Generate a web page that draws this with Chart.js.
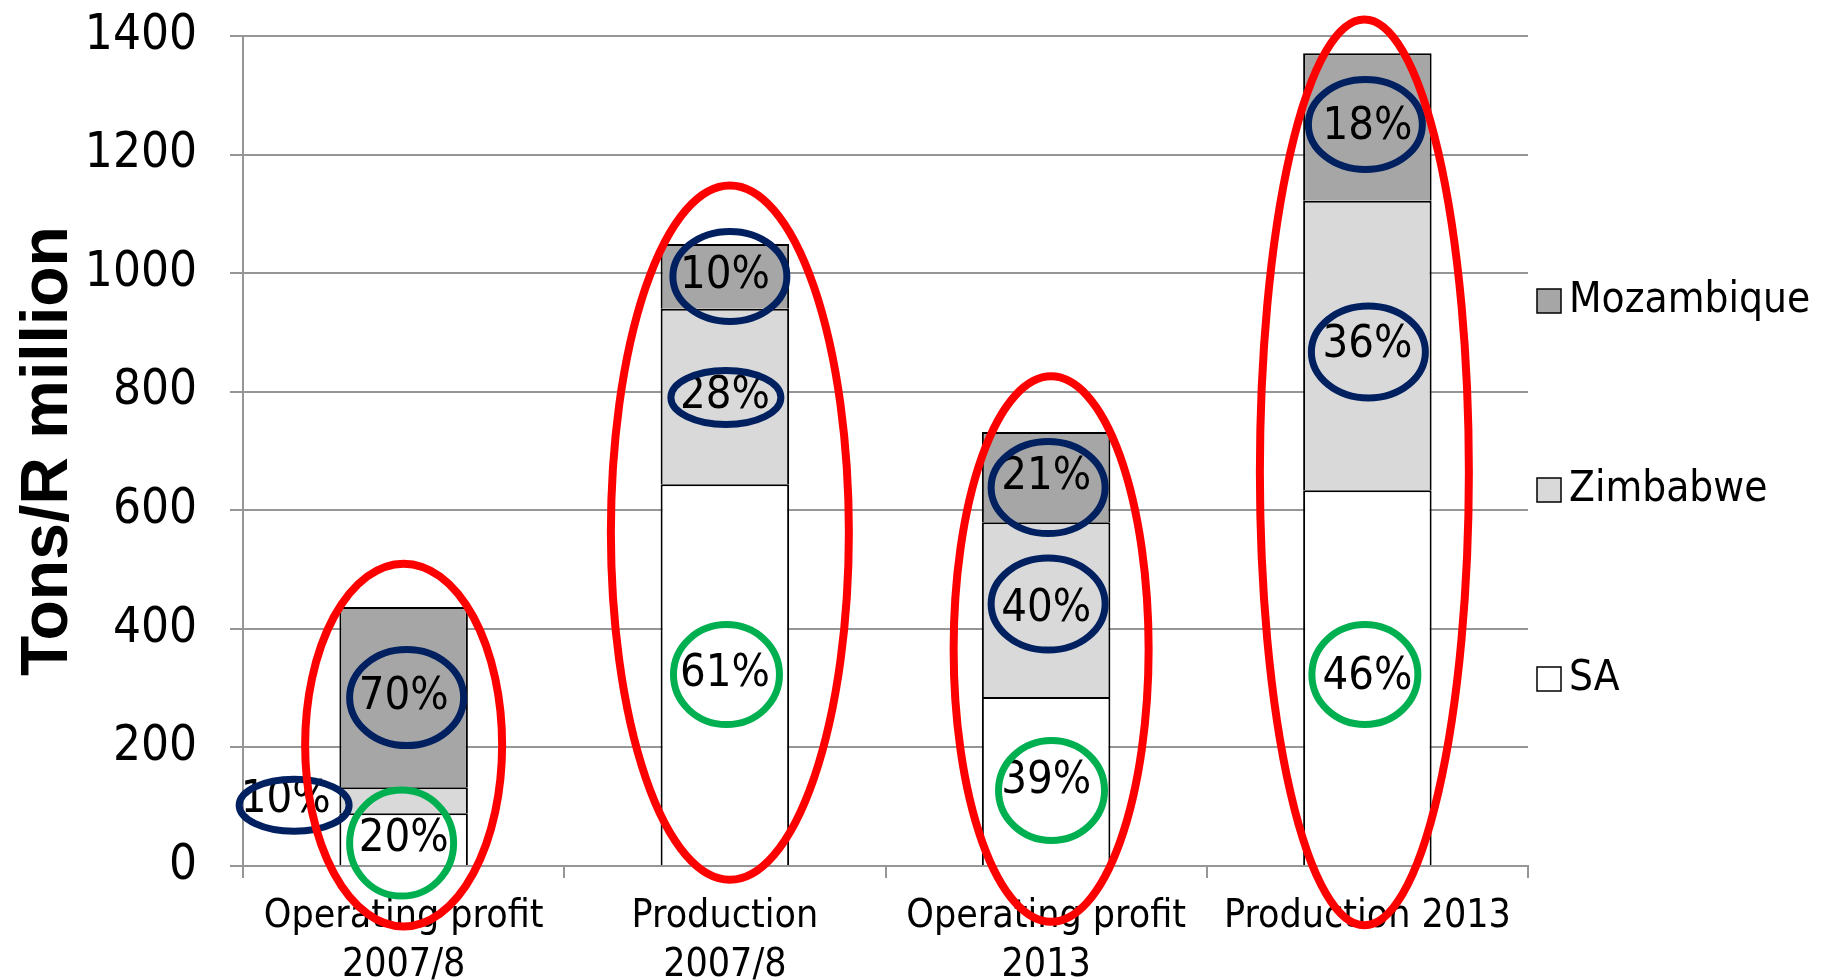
<!DOCTYPE html>
<html>
<head>
<meta charset="utf-8">
<title>SA, Zimbabwe and Mozambique share</title>
<script src="https://cdn.jsdelivr.net/npm/chart.js@4.4.1/dist/chart.umd.min.js"></script>
<style>
  html, body { margin: 0; padding: 0; background: #fff; }
  canvas { display: block; }
</style>
</head>
<body>
<canvas id="chart" width="1839" height="980"></canvas>
<script>
// categories and stacked values (Tons / R million)
const categories = [['Operating profit', '2007/8'], ['Production', '2007/8'], ['Operating profit', '2013'], 'Production 2013'];
const saValues = [89, 644, 285, 634];
const zimbabweValues = [44, 296, 295, 488];
const mozambiqueValues = [304, 109, 152, 249];
const yTicks = [0, 200, 400, 600, 800, 1000, 1200, 1400];

const FONT = "'DejaVu Sans Condensed', 'DejaVu Sans', sans-serif";
const RED = '#ff0000';
const NAVY = '#002060';
const GREEN = '#00b050';
const GRID = '#969696';

// percentage of each bar written in the middle of its segment
const pctLabels = {
  id: 'pctLabels',
  afterDatasetsDraw(chart, args, opts) {
    const ctx = chart.ctx;
    const sets = chart.data.datasets;
    const totals = categories.map((c, i) => sets.reduce((s, d) => s + d.data[i], 0));
    ctx.save();
    ctx.font = opts.font;
    ctx.fillStyle = '#000';
    ctx.textAlign = 'center';
    ctx.textBaseline = 'middle';
    sets.forEach((ds, di) => {
      chart.getDatasetMeta(di).data.forEach((bar, i) => {
        const p = bar.getCenterPoint();
        const dx = opts.shift[di + ':' + i] || 0;
        ctx.fillText(Math.round(ds.data[i] / totals[i] * 100) + '%', p.x + dx, p.y);
      });
    });
    ctx.restore();
  }
};

// hand drawn style rings: small ones round some labels, big ones round each bar
const rings = {
  id: 'rings',
  afterDraw(chart, args, opts) {
    const { ctx, scales: { x, y } } = chart;
    const shift = chart.options.plugins.pctLabels.shift;
    const ellipse = (cx, cy, rx, ry, color, width) => {
      ctx.beginPath();
      ctx.ellipse(cx, cy, rx, ry, 0, 0, Math.PI * 2);
      ctx.strokeStyle = color;
      ctx.lineWidth = width;
      ctx.stroke();
    };
    ctx.save();
    opts.labels.forEach(r => {
      const p = chart.getDatasetMeta(r.dataset).data[r.index].getCenterPoint();
      const sx = shift[r.dataset + ':' + r.index] || 0;
      ellipse(p.x + sx + r.dx, p.y + r.dy, r.rx, r.ry, r.color, 7);
    });
    opts.bars.forEach(r => {
      const top = y.getPixelForValue(r.top);
      const bottom = y.getPixelForValue(r.bottom);
      ellipse(x.getPixelForValue(r.index) + r.dx, (top + bottom) / 2, r.rx, (bottom - top) / 2, RED, 8);
    });
    ctx.restore();
  }
};

// legend on the right, top series first, spread over the height
const sideLegend = {
  id: 'sideLegend',
  afterDraw(chart, args, opts) {
    const { ctx, chartArea } = chart;
    const items = chart.data.datasets.slice().reverse();
    const s = opts.box;
    ctx.save();
    ctx.font = opts.font;
    ctx.textAlign = 'left';
    ctx.textBaseline = 'middle';
    items.forEach((ds, k) => {
      const cy = chart.height / 2 + (k - (items.length - 1) / 2) * opts.spacing;
      const bx = chartArea.right + opts.gap;
      ctx.fillStyle = ds.backgroundColor;
      ctx.fillRect(bx, cy - s / 2, s, s);
      ctx.strokeStyle = '#000';
      ctx.lineWidth = 1.5;
      ctx.strokeRect(bx, cy - s / 2, s, s);
      ctx.fillStyle = '#000';
      ctx.fillText(ds.label, bx + s + opts.textGap, cy);
    });
    ctx.restore();
  }
};

new Chart(document.getElementById('chart'), {
  type: 'bar',
  data: {
    labels: categories,
    datasets: [
      { label: 'SA', data: saValues, backgroundColor: '#ffffff' },
      { label: 'Zimbabwe', data: zimbabweValues, backgroundColor: '#d9d9d9' },
      { label: 'Mozambique', data: mozambiqueValues, backgroundColor: '#a6a6a6' }
    ]
  },
  plugins: [pctLabels, rings, sideLegend],
  options: {
    responsive: false,
    animation: false,
    devicePixelRatio: 1,
    layout: { padding: { left: 16, top: 36, right: 311, bottom: 0 } },
    datasets: {
      bar: {
        borderColor: '#000',
        borderWidth: 2,
        barPercentage: 0.8,
        categoryPercentage: 0.5
      }
    },
    scales: {
      x: {
        stacked: true,
        afterFit: s => { s.height = 114; },
        grid: { display: true, drawOnChartArea: false, tickLength: 12, color: GRID, lineWidth: 2 },
        border: { color: GRID, width: 2 },
        ticks: {
          color: '#000',
          padding: 14,
          autoSkip: false,
          maxRotation: 0,
          font: { family: FONT, size: 39, lineHeight: 1.256 }
        }
      },
      y: {
        stacked: true,
        min: 0,
        max: 1400,
        // tick padding would otherwise push the plot down from the top
        afterFit: s => { s.width = 227; s.paddingTop = 0; s.paddingBottom = 0; },
        afterBuildTicks: s => { s.ticks = yTicks.map(v => ({ value: v })); },
        grid: { color: GRID, lineWidth: 2, tickLength: 13 },
        border: { color: GRID, width: 2 },
        ticks: {
          color: '#000',
          padding: 33,
          callback: v => String(v),
          font: { family: FONT, size: 49 }
        },
        title: {
          display: true,
          text: 'Tons/R million',
          color: '#000',
          padding: { top: 0, bottom: 13 },
          font: { family: "'Liberation Sans', Arial, sans-serif", size: 66, weight: 'bold', lineHeight: 1 }
        }
      }
    },
    plugins: {
      legend: { display: false },
      tooltip: { enabled: false },
      pctLabels: {
        font: '45px ' + FONT,
        shift: { '1:0': -118 }
      },
      sideLegend: { font: '42px ' + FONT, box: 24, gap: 9, textGap: 8, spacing: 189 },
      rings: {
        labels: [
          { dataset: 1, index: 0, rx: 55, ry: 26, dx: 8.5, dy: 5, color: NAVY },
          { dataset: 2, index: 0, rx: 57, ry: 48, dx: 3, dy: 0.5, color: NAVY },
          { dataset: 2, index: 1, rx: 57, ry: 45, dx: 5, dy: 0, color: NAVY },
          { dataset: 1, index: 1, rx: 55, ry: 27, dx: 1, dy: 1, color: NAVY },
          { dataset: 2, index: 2, rx: 57, ry: 46, dx: 2, dy: 10.5, color: NAVY },
          { dataset: 1, index: 2, rx: 57, ry: 46, dx: 2, dy: -5.5, color: NAVY },
          { dataset: 2, index: 3, rx: 57, ry: 45, dx: -2, dy: -2.5, color: NAVY },
          { dataset: 1, index: 3, rx: 57, ry: 46, dx: 1, dy: 6.5, color: NAVY },
          { dataset: 0, index: 0, rx: 52, ry: 53, dx: -2, dy: 4, color: GREEN },
          { dataset: 0, index: 1, rx: 53, ry: 50, dx: 1.6, dy: 0, color: GREEN },
          { dataset: 0, index: 2, rx: 53, ry: 50, dx: 5.4, dy: 9.5, color: GREEN },
          { dataset: 0, index: 3, rx: 53, ry: 50, dx: -2.5, dy: -3, color: GREEN }
        ],
        bars: [
          { index: 0, top: 510, bottom: -102, rx: 98.5, dx: 0 },
          { index: 1, top: 1148, bottom: -23, rx: 119, dx: 5 },
          { index: 2, top: 826, bottom: -94, rx: 97.5, dx: 5 },
          { index: 3, top: 1428, bottom: -100, rx: 104.5, dx: -3 }
        ]
      }
    }
  }
});
</script>
</body>
</html>
